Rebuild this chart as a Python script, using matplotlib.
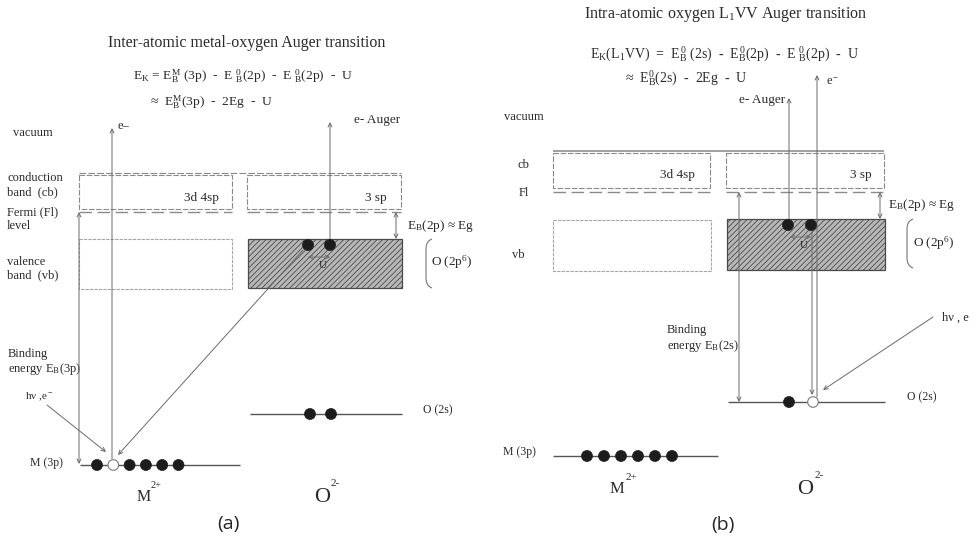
import matplotlib
matplotlib.use("Agg")
import matplotlib.pyplot as plt
from matplotlib.patches import Rectangle, Circle, PathPatch
from matplotlib.path import Path

plt.rcParams["font.family"] = ["Liberation Serif", "DejaVu Serif"]
plt.rcParams["mathtext.fontset"] = "custom"
plt.rcParams["mathtext.rm"] = "Liberation Serif"
plt.rcParams["mathtext.it"] = "Liberation Serif:italic"
plt.rcParams["mathtext.bf"] = "Liberation Serif:bold"
plt.rcParams["hatch.linewidth"] = 0.6

# ---- diagram content ----
panel_tags = ["(a)", "(b)"]
panel_titles = ["Inter-atomic metal-oxygen Auger transition",
                r"Intra-atomic oxygen L$_\mathrm{1}$VV Auger transition"]
ek_lines_a = [r"E$_\mathrm{K}$ = E$_\mathrm{B}^\mathrm{M}$ (3p)  -  E $^0_\mathrm{B}$(2p)  -  E $^0_\mathrm{B}$(2p)  -  U",
              r"≈  E$_\mathrm{B}^\mathrm{M}$(3p)  -  2Eg  -  U"]
ek_lines_b = [r"E$_\mathrm{K}$(L$_\mathrm{1}$VV)  =  E$_\mathrm{B}^{\,0}$ (2s)  -  E$_\mathrm{B}^{\,0}$(2p)  -  E $^0_\mathrm{B}$(2p)  -  U",
              r"≈  E$_\mathrm{B}^{0}$(2s)  -  2Eg  -  U"]
band_labels = ["3d 4sp", "3 sp"]
ion_labels = [("M", "2+"), ("O", "2-")]
gap_label = r"E$_\mathrm{B}$(2p) ≈ Eg"
vb_label = r"O (2p$^6$)"
m3p_electrons = 6      # filled M 3p shell
o2s_electrons = 2      # filled O 2s shell
vb_pair = 2            # O 2p electrons taking part in the decay
m3p_hole_a = 1         # core vacancy created in M 3p, panel (a)
o2s_hole_b = 1         # core vacancy created in O 2s, panel (b)

INK = "#2a2a2a"
LINE = "#6a6a6a"

fig = plt.figure(figsize=(9.76, 5.42), dpi=100)
ax = fig.add_axes([0, 0, 1, 1])
ax.set_xlim(0, 976)
ax.set_ylim(542, 0)
ax.axis("off")


def txt(x, y, s, size=9, ha="left", va="center", **kw):
    ax.text(x, y, s, fontsize=size, ha=ha, va=va, color=INK, **kw)


def hline(x1, x2, y, ls="-", lw=1.0, color="#555555"):
    ax.plot([x1, x2], [y, y], ls=ls, lw=lw, color=color, solid_capstyle="butt")


def arrow(p0, p1, both=False, lw=0.7, color=LINE):
    ax.annotate("", xy=p1, xytext=p0,
                arrowprops=dict(arrowstyle="<->" if both else "->", lw=lw,
                                color=color, shrinkA=0, shrinkB=0,
                                mutation_scale=7))


def band_box(x1, x2, y1, y2, ls=(0, (5, 1.5)), color="#8a8a8a"):
    ax.add_patch(Rectangle((x1, y1), x2 - x1, y2 - y1, fill=False,
                           ls=ls, lw=0.8, ec=color))


def hatched_box(x1, x2, y1, y2):
    ax.add_patch(Rectangle((x1, y1), x2 - x1, y2 - y1, fc="#b8b8b8",
                           ec="#4a4a4a", hatch="//////", lw=0.9))


def electrons(xs, y, holes=()):
    for i, x in enumerate(xs):
        if i in holes:
            ax.add_patch(Circle((x, y), 5.3, fc="white", ec="#7a7a7a", lw=0.8, zorder=5))
        else:
            ax.add_patch(Circle((x, y), 5.5, fc="#1c1c1c", ec="#1c1c1c", lw=0.5, zorder=5))


def brace(x, y1, y2):
    verts = [(x + 5, y1), (x - 1, y1 + 2), (x - 1, y1 + 10),
             (x - 1, y2 - 10), (x - 1, y2 - 2), (x + 5, y2)]
    codes = [Path.MOVETO, Path.CURVE3, Path.CURVE3, Path.LINETO, Path.CURVE3, Path.CURVE3]
    ax.add_patch(PathPatch(Path(verts, codes), fill=False, ec="#777777", lw=0.8))


def ion(x, y, base, charge, size, sup_size, dx, dy):
    txt(x, y, base, size=size)
    txt(x + dx, y - dy, charge, size=sup_size)


# ================= panel (a): inter-atomic =================
txt(247, 43, panel_titles[0], size=11.5, ha="center")
txt(133, 76, ek_lines_a[0], size=9.7)
txt(150, 102, ek_lines_a[1], size=9.7)

txt(13, 133, "vacuum")
txt(7, 178, "conduction")
txt(7, 192, "band  (cb)")
txt(7, 212, "Fermi (Fl)")
txt(7, 226, "level")
txt(7, 262, "valence")
txt(7, 275, "band  (vb)")
txt(8, 354, "Binding")
txt(8, 369, r"energy E$_\mathrm{B}$(3p)")
txt(25, 397, r"hν ,e$^-$", size=8)
txt(30, 463, "M (3p)", size=8.5)

hline(79, 401, 173, ls=(0, (6, 2)), lw=0.8, color="#8a8a8a")
band_box(79, 232, 175, 209)
band_box(247, 401, 175, 209)
txt(184, 198, band_labels[0], size=9.5)
txt(365, 198, band_labels[1], size=9.5)
hline(79, 232, 212, ls=(0, (9, 4)), lw=1.0, color="#8a8a8a")
hline(247, 401, 212, ls=(0, (9, 4)), lw=1.0, color="#8a8a8a")
band_box(79, 232, 239, 289, ls=(0, (3, 1)), color="#a5a5a5")
hatched_box(248, 402, 239, 288)

m3p_x_a = [97 + 16.3 * i for i in range(m3p_electrons)]
o2s_x_a = [310 + 21 * i for i in range(o2s_electrons)]
vb_x_a = [308 + 22 * i for i in range(vb_pair)]
hline(80, 240, 465, lw=1.0)
hline(250, 402, 414, lw=1.0)
electrons(m3p_x_a, 465, holes=(m3p_hole_a,))
electrons(o2s_x_a, 414)
electrons(vb_x_a, 245)

arrow((112, 459), (112, 128))
txt(118, 126, "e–")
arrow((330, 250), (330, 122))
txt(354, 120, "e- Auger", size=9.5)
arrow((79, 212), (79, 464), both=True)
arrow((396, 212), (396, 239), both=True)
txt(407, 226, gap_label, size=9.5)
arrow((47, 405), (106, 452))
arrow((303, 250), (118, 455))
arrow((308, 257), (330, 257), both=True, lw=0.6)
txt(319, 265, "U", size=8)
brace(427, 239, 288)
txt(431, 262, vb_label, size=9.5)
txt(423, 410, "O (2s)", size=8.5)

ion(137, 497, ion_labels[0][0], ion_labels[0][1], 11.5, 7.5, 14, 11)
ion(314, 497, ion_labels[1][0], ion_labels[1][1], 16, 8, 17, 14)
ax.text(228, 524, panel_tags[0], fontsize=14, ha="center", va="center",
        color="#262626", family=["Open Sans", "DejaVu Sans"])

# ================= panel (b): intra-atomic =================
txt(726, 14, panel_titles[1], size=11.5, ha="center")
txt(590, 54, ek_lines_b[0], size=10)
txt(625, 78, ek_lines_b[1], size=10)

txt(504, 117, "vacuum")
txt(518, 165, "cb")
txt(519, 193, "Fl")
txt(512, 255, "vb")
txt(503, 452, "M (3p)", size=8.5)

hline(553, 884, 151, lw=1.2, color="#909090")
band_box(553, 710, 153, 188)
band_box(726, 884, 153, 188)
txt(660, 175, band_labels[0], size=9.5)
txt(850, 175, band_labels[1], size=9.5)
hline(553, 710, 192, ls=(0, (9, 4)), lw=1.0, color="#8a8a8a")
hline(726, 884, 192, ls=(0, (9, 4)), lw=1.0, color="#8a8a8a")
band_box(553, 711, 220, 271, ls=(0, (3, 1)), color="#a5a5a5")
hatched_box(727, 885, 219, 270)

m3p_x_b = [587 + 17 * i for i in range(m3p_electrons)]
o2s_x_b = [789 + 24 * i for i in range(o2s_electrons)]
vb_x_b = [788 + 23 * i for i in range(vb_pair)]
hline(553, 718, 456, lw=1.0)
hline(728, 885, 402, lw=1.0)
electrons(m3p_x_b, 456)
electrons(o2s_x_b, 402, holes=(o2s_hole_b,))
electrons(vb_x_b, 225)

arrow((817, 397), (817, 75))
txt(826, 82, r"e$^-$")
arrow((789, 230), (789, 98))
txt(785, 100, "e- Auger", size=9.5, ha="right")
arrow((739, 192), (739, 402), both=True)
arrow((812, 230), (812, 395))
arrow((880, 192), (880, 219), both=True)
txt(888, 205, gap_label, size=9.5)
arrow((933, 317), (823, 390))
txt(942, 318, "hν , e", size=9)
arrow((790, 237), (811, 237), both=True, lw=0.6)
txt(800, 245, "U", size=8)
brace(908, 219, 268)
txt(913, 243, vb_label, size=9.5)
txt(907, 397, "O (2s)", size=8.5)
txt(667, 330, "Binding")
txt(667, 346, r"energy E$_\mathrm{B}$(2s)")

ion(610, 489, ion_labels[0][0], ion_labels[0][1], 12, 8, 16, 12)
ion(797, 489, ion_labels[1][0], ion_labels[1][1], 16, 8, 18, 13)
ax.text(723, 525, panel_tags[1], fontsize=14, ha="center", va="center",
        color="#262626", family=["Open Sans", "DejaVu Sans"])

fig.savefig("out.png", dpi=100)
